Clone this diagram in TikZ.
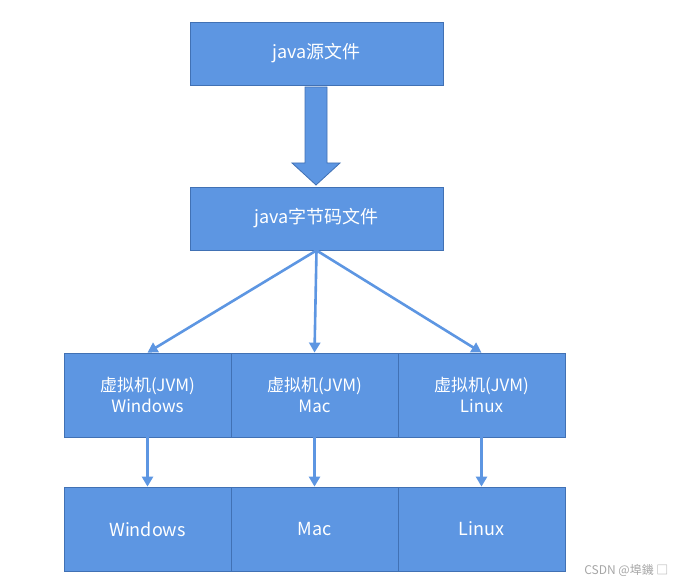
\documentclass[tikz,border=0pt]{standalone}
\usepackage{fontspec}
\setmainfont{Noto Sans CJK SC}
\usetikzlibrary{arrows.meta}
\definecolor{boxfill}{RGB}{93,150,226}
\definecolor{boxline}{RGB}{65,113,180}
\begin{document}
\begin{tikzpicture}[x=1pt,y=-1pt,
  box/.style={draw=boxline,fill=boxfill,line width=0.8pt,text=white,inner sep=0pt,
    font=\fontsize{18}{20}\selectfont,align=center},
  conn/.style={draw=boxfill,line width=2.6pt,-{Stealth[length=10pt,width=11pt,inset=0pt]}}]
\useasboundingbox (0,0) rectangle (687,588);
\node[box,minimum width=253pt,minimum height=63pt] (src) at (316.5,53.5) {java源文件};
\node[box,minimum width=253pt,minimum height=63pt] (byte) at (316.5,218.5) {java字节码文件};
\foreach \n/\x/\os in {w/147.5/Windows,m/314.5/Mac,l/481.5/Linux}{
  \node[box,minimum width=167pt,minimum height=84pt,font=\fontsize{17}{21}\selectfont] (v\n) at (\x,395) {虚拟机(JVM)\\\os};
  \node[box,minimum width=167pt,minimum height=84pt] (o\n) at (\x,529) {\os};
  \draw[conn] (v\n.south) -- (o\n.north);
}
\draw[conn] (byte.south) -- (vw.north);
\draw[conn] (byte.south) -- (vm.north);
\draw[conn] (byte.south) -- (vl.north);
% block arrow between the two top boxes
\draw[draw=boxline,fill=boxfill,line width=0.8pt]
  (305,87) -- (327,87) -- (327,163) -- (340,163) -- (316,185) -- (292,163) -- (305,163) -- cycle;
\node[text=gray!70,font=\fontsize{12}{14}\selectfont,anchor=east] (wm) at (672,570) {CSDN @埠鐖 □};
\end{tikzpicture}
\end{document}
